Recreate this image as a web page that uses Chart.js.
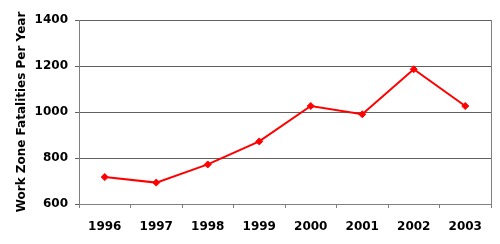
<!DOCTYPE html>
<html>
<head>
<meta charset="utf-8">
<script src="https://cdn.jsdelivr.net/npm/chart.js@4"></script>
<style>
  html, body { margin: 0; padding: 0; background: #fff; }
  #wrap { width: 500px; height: 244px; }
</style>
</head>
<body>
<div id="wrap"><canvas id="chart" width="500" height="244"></canvas></div>
<script>
// Work zone fatalities per year
const years = ['1996', '1997', '1998', '1999', '2000', '2001', '2002', '2003'];
const fatalities = [717, 693, 772, 872, 1026, 990, 1186, 1026];
const yMin = 600;
const yMax = 1400;
const yStep = 200;

const tickFont = { family: 'DejaVu Sans', size: 12, weight: 'bold' };

// Draw the right-hand border of the plot area
const plotBorder = {
  id: 'plotBorder',
  afterDraw(chart) {
    const { ctx, chartArea } = chart;
    ctx.save();
    ctx.strokeStyle = '#808080';
    ctx.lineWidth = 1;
    ctx.beginPath();
    ctx.moveTo(Math.round(chartArea.right) + 0.5, chartArea.top);
    ctx.lineTo(Math.round(chartArea.right) + 0.5, chartArea.bottom);
    ctx.stroke();
    ctx.restore();
  }
};

const ctx = document.getElementById('chart').getContext('2d');
new Chart(ctx, {
  type: 'line',
  data: {
    labels: years,
    datasets: [{
      data: fatalities,
      borderColor: '#ff0000',
      backgroundColor: '#ff0000',
      borderWidth: 2,
      tension: 0,
      pointStyle: 'rectRot',
      pointRadius: 3.5,
      pointBorderWidth: 1,
      pointBackgroundColor: '#ff0000'
    }]
  },
  options: {
    responsive: false,
    animation: false,
    layout: { padding: { left: 0, top: 20, right: 9, bottom: 0 } },
    plugins: {
      legend: { display: false },
      tooltip: { enabled: false }
    },
    scales: {
      x: {
        offset: true,
        grid: {
          offset: true,
          drawOnChartArea: false,
          drawTicks: true,
          tickLength: 4,
          color: '#808080'
        },
        border: { color: '#808080' },
        ticks: { font: tickFont, color: '#000', padding: 12, maxRotation: 0 },
        afterFit: (scale) => { scale.height = 40; }
      },
      y: {
        min: yMin,
        max: yMax,
        grid: { color: '#606060', tickLength: 4 },
        border: { color: '#808080' },
        ticks: {
          stepSize: yStep,
          font: tickFont,
          color: '#000',
          padding: 7,
          callback: (value) => String(value)  // no thousands separator
        },
        title: {
          display: true,
          text: 'Work Zone Fatalities Per Year',
          font: tickFont,
          color: '#000',
          padding: { top: 15, bottom: 0 }
        },
        afterFit: (scale) => { scale.width = 79; }
      }
    }
  },
  plugins: [plotBorder]
});
</script>
</body>
</html>
